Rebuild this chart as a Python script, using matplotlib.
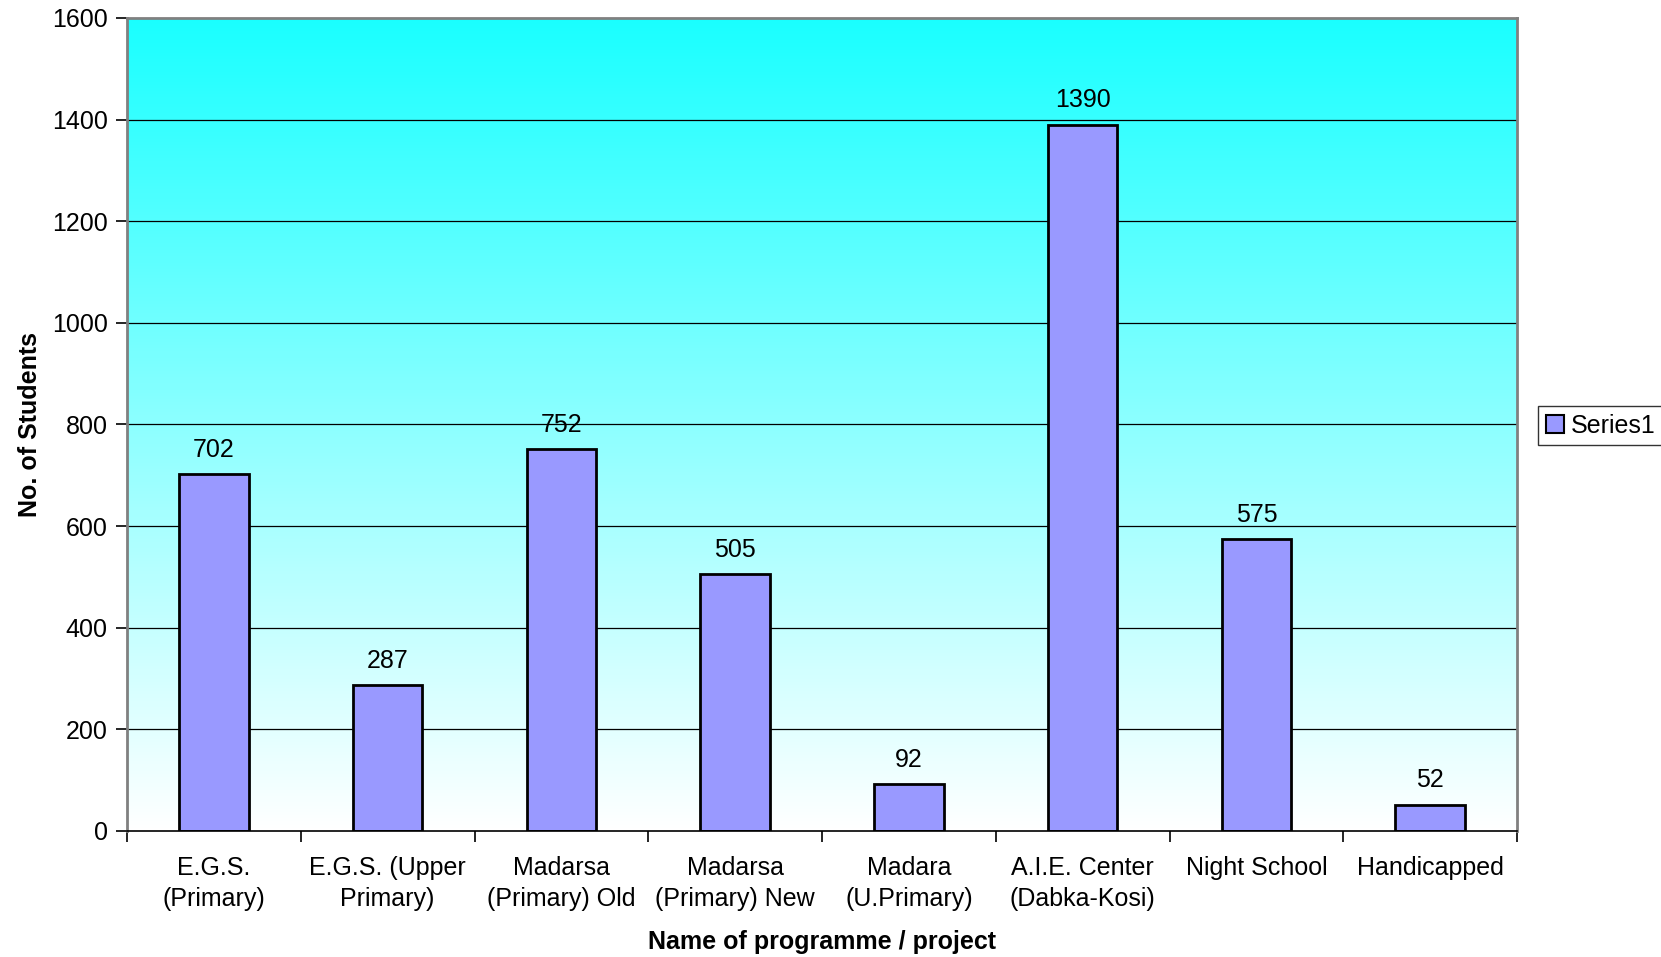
import numpy as np
import matplotlib.pyplot as plt
from matplotlib.patches import Patch

categories = ["E.G.S.\n(Primary)", "E.G.S. (Upper\nPrimary)", "Madarsa\n(Primary) Old",
              "Madarsa\n(Primary) New", "Madara\n(U.Primary)", "A.I.E. Center\n(Dabka-Kosi)",
              "Night School", "Handicapped"]
students = [702, 287, 752, 505, 92, 1390, 575, 52]
yticks = [0, 200, 400, 600, 800, 1000, 1200, 1400, 1600]

plt.rcParams["font.family"] = ["Liberation Sans", "DejaVu Sans"]
FS = 18

fig = plt.figure(figsize=(16.61, 9.57), dpi=100)
ax = fig.add_axes([0.0765, 0.1317, 0.8368, 0.8495])

n = len(categories)
x = np.arange(n)

# background gradient cyan -> white
grad = np.linspace(0, 1, 256).reshape(-1, 1)
top = np.array([0.1, 1.0, 1.0])
rgb = np.ones((256, 1, 3)) * (1 - grad[..., None]) + top * grad[..., None]
ax.imshow(rgb, extent=[-0.5, n - 0.5, 0, 1600], origin="lower", aspect="auto", zorder=0)

for yv in yticks[1:-1]:
    ax.axhline(yv, color="black", lw=0.9, zorder=1)

bars = ax.bar(x, students, width=0.4, color="#9999FF", edgecolor="black", lw=2, zorder=2)
for xi, v in zip(x, students):
    ax.text(xi, v + 24, str(v), ha="center", va="bottom", fontsize=FS, zorder=3)

ax.set_xlim(-0.5, n - 0.5)
ax.set_ylim(0, 1600)
ax.set_yticks(yticks)
ax.set_yticklabels([str(t) for t in yticks], fontsize=FS)
ax.set_xticks(x)
ax.set_xticklabels(categories, fontsize=FS, linespacing=1.35)
ax.tick_params(axis="x", length=0, pad=18)
ax.set_xticks(np.arange(n + 1) - 0.5, minor=True)
ax.tick_params(axis="x", which="minor", length=8, width=1.2, direction="out")
ax.tick_params(axis="y", length=8, width=1.2, direction="out", pad=6)

for side in ["left", "top", "right"]:
    ax.spines[side].set_color("#808080")
    ax.spines[side].set_linewidth(2)
ax.spines["bottom"].set_color("black")
ax.spines["bottom"].set_linewidth(1.2)

ax.set_ylabel("No. of Students", fontsize=FS, fontweight="bold", labelpad=7)
ax.set_xlabel("Name of programme / project", fontsize=FS, fontweight="bold", labelpad=14)

handle = Patch(facecolor="#9999FF", edgecolor="black", lw=1.5)
leg = fig.legend([handle], ["Series1"], loc="center left", bbox_to_anchor=(0.926, 0.555),
                 fontsize=FS, frameon=True, fancybox=False, edgecolor="black",
                 handlelength=0.75, handleheight=0.75, handletextpad=0.25, borderpad=0.3,
                 borderaxespad=0)
leg.get_frame().set_linewidth(1.0)

fig.savefig("out.png", dpi=100)
